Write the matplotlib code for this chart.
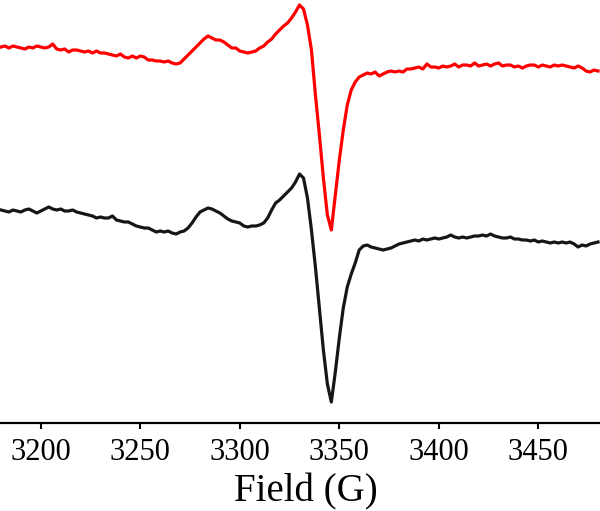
import numpy as np
import matplotlib

matplotlib.use("Agg")
import matplotlib.pyplot as plt

# EPR spectra, field sampled every 2 G from 3180 to 3480 G
FIELD_START = 3180
FIELD_STOP = 3480
FIELD_STEP = 2

# intensities in arbitrary units (traces are vertically offset)
red_trace = [
    376, 377, 375, 377, 376, 375, 374, 376, 375, 377,
    376, 375, 376, 379, 374, 373, 374, 371, 373, 373,
    372, 371, 372, 370, 372, 370, 370, 369, 368, 367,
    369, 366, 365, 367, 365, 367, 366, 363, 363, 362,
    362, 361, 362, 360, 359, 360, 364, 368, 372, 376,
    380, 384, 387, 385, 383, 383, 381, 378, 375, 375,
    372, 371, 370, 371, 372, 375, 377, 381, 384, 389,
    393, 397, 400, 405, 411, 418, 414, 398, 373, 328,
    288, 245, 208, 193, 228, 263, 293, 318, 333, 341,
    346, 348, 350, 349, 351, 347, 349, 351, 352, 351,
    352, 351, 354, 354, 355, 356, 354, 359, 356, 356,
    355, 357, 356, 357, 359, 356, 358, 358, 357, 360,
    357, 358, 359, 357, 359, 360, 357, 358, 358, 356,
    357, 355, 357, 358, 358, 356, 358, 357, 356, 358,
    357, 358, 357, 356, 355, 357, 355, 352, 351, 353, 352,
]

black_trace = [
    213, 212, 211, 213, 212, 211, 213, 214, 212, 210,
    212, 214, 216, 214, 213, 214, 212, 212, 213, 211,
    210, 209, 208, 207, 205, 206, 205, 205, 207, 203,
    202, 201, 201, 199, 197, 196, 195, 195, 193, 191,
    192, 191, 192, 190, 189, 191, 192, 195, 200, 206,
    211, 213, 215, 214, 212, 210, 207, 204, 202, 201,
    200, 197, 196, 197, 197, 198, 200, 205, 213, 220,
    223, 227, 231, 235, 241, 249, 245, 225, 193, 156,
    115, 73, 39, 21, 51, 85, 115, 136, 149, 160,
    173, 177, 178, 176, 175, 174, 173, 174, 175, 177,
    179, 180, 181, 182, 183, 182, 184, 183, 184, 185,
    184, 185, 186, 188, 186, 185, 186, 185, 186, 187,
    187, 188, 187, 189, 187, 186, 185, 185, 186, 184,
    184, 183, 183, 182, 183, 181, 182, 181, 180, 181,
    180, 181, 180, 181, 179, 176, 178, 177, 179, 180, 181,
]

x_ticks = [3200, 3250, 3300, 3350, 3400, 3450]

plt.rcParams["font.family"] = ["Liberation Serif", "DejaVu Serif"]

field = np.arange(FIELD_START, FIELD_STOP + 1, FIELD_STEP)

fig = plt.figure(figsize=(6.0, 5.11), dpi=100)
ax = fig.add_axes([0.0, 0.1722, 1.0, 0.8278])

ax.plot(field, red_trace, color="#ff0000", linewidth=2.3, clip_on=False)
ax.plot(field, black_trace, color="#161616", linewidth=2.3, clip_on=False)

ax.set_xlim(3179.5, 3481.0)
ax.set_ylim(0, 423)

for side in ["left", "right", "top"]:
    ax.spines[side].set_visible(False)
ax.spines["bottom"].set_linewidth(1.6)
ax.set_yticks([])
ax.set_xticks(x_ticks)
ax.tick_params(axis="x", direction="out", length=4.5, width=1.5, labelsize=22, pad=6)
ax.set_xlabel("Field (G)", fontsize=28)
ax.xaxis.set_label_coords(0.51, -0.118)

fig.savefig("out.png", dpi=100)
